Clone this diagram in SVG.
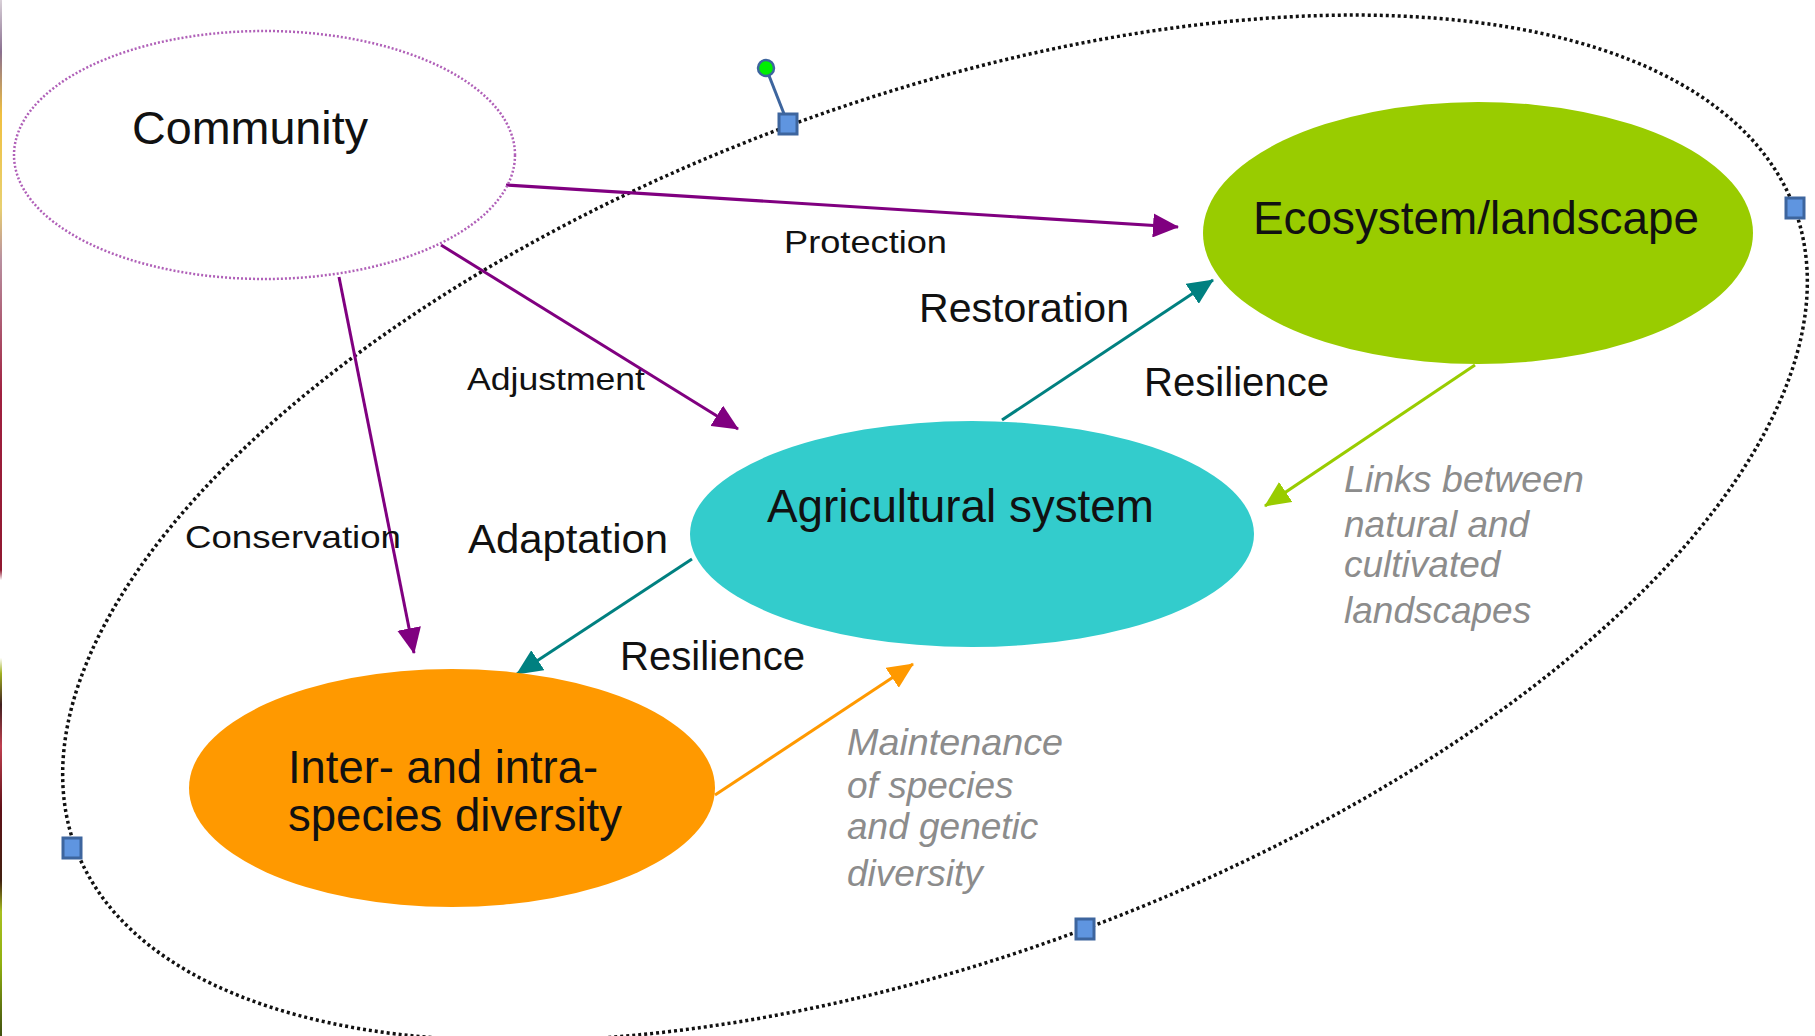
<svg xmlns="http://www.w3.org/2000/svg" width="1815" height="1036" viewBox="0 0 1815 1036">
<style>
  .lbl { font-family: "Liberation Sans", Arial, sans-serif; fill: #111; }
  .node { font-family: "Liberation Sans", Arial, sans-serif; font-size: 46px; fill: #111; }
  .note { font-family: "Liberation Sans", Arial, sans-serif; font-size: 37px; font-style: italic; fill: #8c8c8c; }
  .conn { fill: none; stroke-width: 3; }
  .handle { fill: #5f95e0; stroke: #3d659e; stroke-width: 3; }
</style>
<defs>
  <marker id="ahPurple" markerUnits="userSpaceOnUse" viewBox="0 0 26 24" markerWidth="26" markerHeight="24" refX="25" refY="12" orient="auto">
    <path d="M0,0 L26,12 L0,24 z" fill="#800080"/>
  </marker>
  <marker id="ahTeal" markerUnits="userSpaceOnUse" viewBox="0 0 26 24" markerWidth="26" markerHeight="24" refX="25" refY="12" orient="auto">
    <path d="M0,0 L26,12 L0,24 z" fill="#008080"/>
  </marker>
  <marker id="ahGreen" markerUnits="userSpaceOnUse" viewBox="0 0 26 24" markerWidth="26" markerHeight="24" refX="25" refY="12" orient="auto">
    <path d="M0,0 L26,12 L0,24 z" fill="#99cc00"/>
  </marker>
  <marker id="ahOrange" markerUnits="userSpaceOnUse" viewBox="0 0 26 24" markerWidth="26" markerHeight="24" refX="25" refY="12" orient="auto">
    <path d="M0,0 L26,12 L0,24 z" fill="#ff9900"/>
  </marker>
  <linearGradient id="strip" x1="0" y1="0" x2="0" y2="1">
    <stop offset="0" stop-color="#d8d0d8"/>
    <stop offset="0.05" stop-color="#8a7090"/>
    <stop offset="0.11" stop-color="#f0c040"/>
    <stop offset="0.2" stop-color="#e8d070"/>
    <stop offset="0.25" stop-color="#b890a0"/>
    <stop offset="0.38" stop-color="#a02040"/>
    <stop offset="0.55" stop-color="#901830"/>
    <stop offset="0.56" stop-color="#ffffff"/>
    <stop offset="0.635" stop-color="#ffffff"/>
    <stop offset="0.65" stop-color="#a0b020"/>
    <stop offset="0.68" stop-color="#402020"/>
    <stop offset="0.72" stop-color="#c04050"/>
    <stop offset="0.78" stop-color="#601018"/>
    <stop offset="0.85" stop-color="#402010"/>
    <stop offset="0.88" stop-color="#a8c020"/>
    <stop offset="0.93" stop-color="#90b010"/>
    <stop offset="1" stop-color="#405010"/>
  </linearGradient>
</defs>
<rect x="0" y="0" width="1815" height="1036" fill="#ffffff"/>
<rect x="0" y="0" width="2" height="1036" fill="url(#strip)"/>

<g id="frame">
  <ellipse cx="935" cy="528" rx="917" ry="428" transform="rotate(-20.4 935 528)" fill="none" stroke="#111" stroke-width="3.5" stroke-dasharray="3 3"/>
  <line x1="766" y1="68" x2="788" y2="124" stroke="#3d659e" stroke-width="3"/>
  <circle cx="766" cy="68" r="8" fill="#00f000" stroke="#3d659e" stroke-width="2.5"/>
  <rect class="handle" x="779" y="114" width="18" height="20"/>
  <rect class="handle" x="1786" y="198" width="18" height="20"/>
  <rect class="handle" x="63" y="838" width="18" height="20"/>
  <rect class="handle" x="1076" y="919" width="18" height="20"/>
</g>

<g id="connectors">
  <line class="conn" x1="506" y1="185" x2="1178" y2="227" stroke="#800080" marker-end="url(#ahPurple)"/>
  <line class="conn" x1="441" y1="245" x2="738" y2="429" stroke="#800080" marker-end="url(#ahPurple)"/>
  <line class="conn" x1="339" y1="277" x2="414" y2="653" stroke="#800080" marker-end="url(#ahPurple)"/>
  <line class="conn" x1="1002" y1="420" x2="1213" y2="280" stroke="#008080" marker-end="url(#ahTeal)"/>
  <line class="conn" x1="692" y1="559" x2="517" y2="674" stroke="#008080" marker-end="url(#ahTeal)"/>
  <line class="conn" x1="1475" y1="365" x2="1265" y2="506" stroke="#99cc00" marker-end="url(#ahGreen)"/>
  <line class="conn" x1="715" y1="795" x2="913" y2="664" stroke="#ff9900" marker-end="url(#ahOrange)"/>
</g>

<g id="community">
  <ellipse cx="264.5" cy="155" rx="250.5" ry="124" fill="none" stroke="#b060b8" stroke-width="2.5" stroke-dasharray="2 2"/>
  <text class="node" x="132" y="144" font-size="47" textLength="236" lengthAdjust="spacingAndGlyphs">Community</text>
</g>

<g id="ecosystem">
  <ellipse cx="1478" cy="233" rx="275" ry="131" fill="#99cc00"/>
  <text class="node" x="1253" y="234" fill="#1a0a00" textLength="446" lengthAdjust="spacingAndGlyphs">Ecosystem/landscape</text>
</g>

<g id="agricultural">
  <ellipse cx="972" cy="534" rx="282" ry="113" fill="#33cccc"/>
  <text class="node" x="767" y="522" textLength="387" lengthAdjust="spacingAndGlyphs">Agricultural system</text>
</g>

<g id="diversity">
  <ellipse cx="452" cy="788" rx="263" ry="119" fill="#ff9900"/>
  <text class="node" x="288" y="783" textLength="310" lengthAdjust="spacingAndGlyphs">Inter- and intra-</text>
  <text class="node" x="288" y="831" textLength="334" lengthAdjust="spacingAndGlyphs">species diversity</text>
</g>

<g id="labels">
  <text class="lbl" x="784" y="253" font-size="32" textLength="163" lengthAdjust="spacingAndGlyphs">Protection</text>
  <text class="lbl" x="467" y="390" font-size="32" textLength="178" lengthAdjust="spacingAndGlyphs">Adjustment</text>
  <text class="lbl" x="185" y="548" font-size="32" textLength="216" lengthAdjust="spacingAndGlyphs">Conservation</text>
  <text class="lbl" x="919" y="322" font-size="41" textLength="210" lengthAdjust="spacingAndGlyphs">Restoration</text>
  <text class="lbl" x="1144" y="396" font-size="40" textLength="185" lengthAdjust="spacingAndGlyphs">Resilience</text>
  <text class="lbl" x="468" y="553" font-size="41" textLength="200" lengthAdjust="spacingAndGlyphs">Adaptation</text>
  <text class="lbl" x="620" y="670" font-size="40" textLength="185" lengthAdjust="spacingAndGlyphs">Resilience</text>
  <text class="note" x="1344" y="492" textLength="240" lengthAdjust="spacingAndGlyphs">Links between</text>
  <text class="note" x="1344" y="537">natural and</text>
  <text class="note" x="1344" y="577">cultivated</text>
  <text class="note" x="1344" y="623">landscapes</text>
  <text class="note" x="847" y="755" textLength="216" lengthAdjust="spacingAndGlyphs">Maintenance</text>
  <text class="note" x="847" y="798">of species</text>
  <text class="note" x="847" y="839">and genetic</text>
  <text class="note" x="847" y="886">diversity</text>
</g>
</svg>
